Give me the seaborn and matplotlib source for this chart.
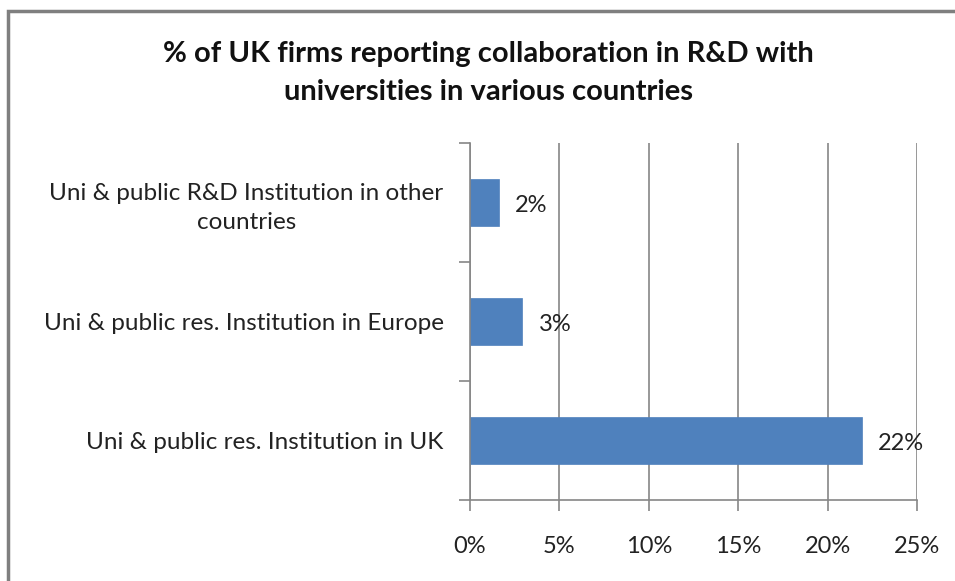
import matplotlib
matplotlib.use("Agg")
import matplotlib.pyplot as plt
import seaborn as sns
import pandas as pd
from matplotlib.patches import Rectangle

categories = [
    "Uni & public R&D Institution in other\ncountries",
    "Uni & public res. Institution in Europe",
    "Uni & public res. Institution in UK",
]
values = [1.6, 2.9, 21.9]
bar_labels = ["2%", "3%", "22%"]
xticks = [0, 5, 10, 15, 20, 25]
xtick_labels = ["0%", "5%", "10%", "15%", "20%", "25%"]
title = "% of UK firms reporting collaboration in R&D with\nuniversities in various countries"

sns.set_theme(style="white")
plt.rcParams["font.family"] = ["Lato", "DejaVu Sans"]

df = pd.DataFrame({"category": categories, "value": values})

fig = plt.figure(figsize=(9.55, 5.81), dpi=100)
ax = fig.add_axes([470 / 955, 81 / 581, 447 / 955, 357 / 581])

sns.barplot(data=df, y="category", x="value", orient="h", color="#4F81BD",
            width=0.4, ax=ax, saturation=1, edgecolor="#4F81BD", linewidth=0.5)

ax.set_xlim(0, 25)
ax.set_ylim(2.5, -0.5)
ax.set_xticks(xticks)
ax.set_xticklabels(xtick_labels, fontsize=17, color="#222222")
ax.set_xlabel("")
ax.set_ylabel("")
ax.set_yticks(range(len(categories)))
ax.set_yticklabels(categories, fontsize=17.5, color="#222222",
                   multialignment="center", linespacing=1.45)
ax.set_yticks([-0.5, 0.5, 1.5, 2.5], minor=True)
ax.tick_params(axis="y", which="major", length=0, pad=19)
ax.tick_params(axis="y", which="minor", length=8, color="#868686", width=1.2, left=True)
ax.tick_params(axis="x", which="major", length=8, color="#868686", width=1.2,
               bottom=True, pad=18)

ax.grid(axis="x", color="#868686", linewidth=1.2)
ax.grid(axis="y", visible=False)
ax.set_axisbelow(True)
for s in ["top", "right"]:
    ax.spines[s].set_visible(False)
for s in ["left", "bottom"]:
    ax.spines[s].set_color("#868686")
    ax.spines[s].set_linewidth(1.2)

for i, (v, lab) in enumerate(zip(values, bar_labels)):
    ax.annotate(lab, xy=(v, i), xytext=(12, -2), textcoords="offset points",
                va="center", ha="left", fontsize=17, color="#222222")

fig.text(488 / 955, 1 - 73 / 581, title, ha="center", va="center",
         fontsize=21, fontweight="bold", color="#111111", linespacing=1.55)

# frame (only top and left visible in reference)
fig.patches.append(Rectangle((8 / 955, -0.1), 1.2, 1 - 11 / 581 + 0.1,
                             transform=fig.transFigure, fill=False,
                             edgecolor="#7f7f7f", linewidth=2.5))

fig.savefig("out.png", dpi=100)
